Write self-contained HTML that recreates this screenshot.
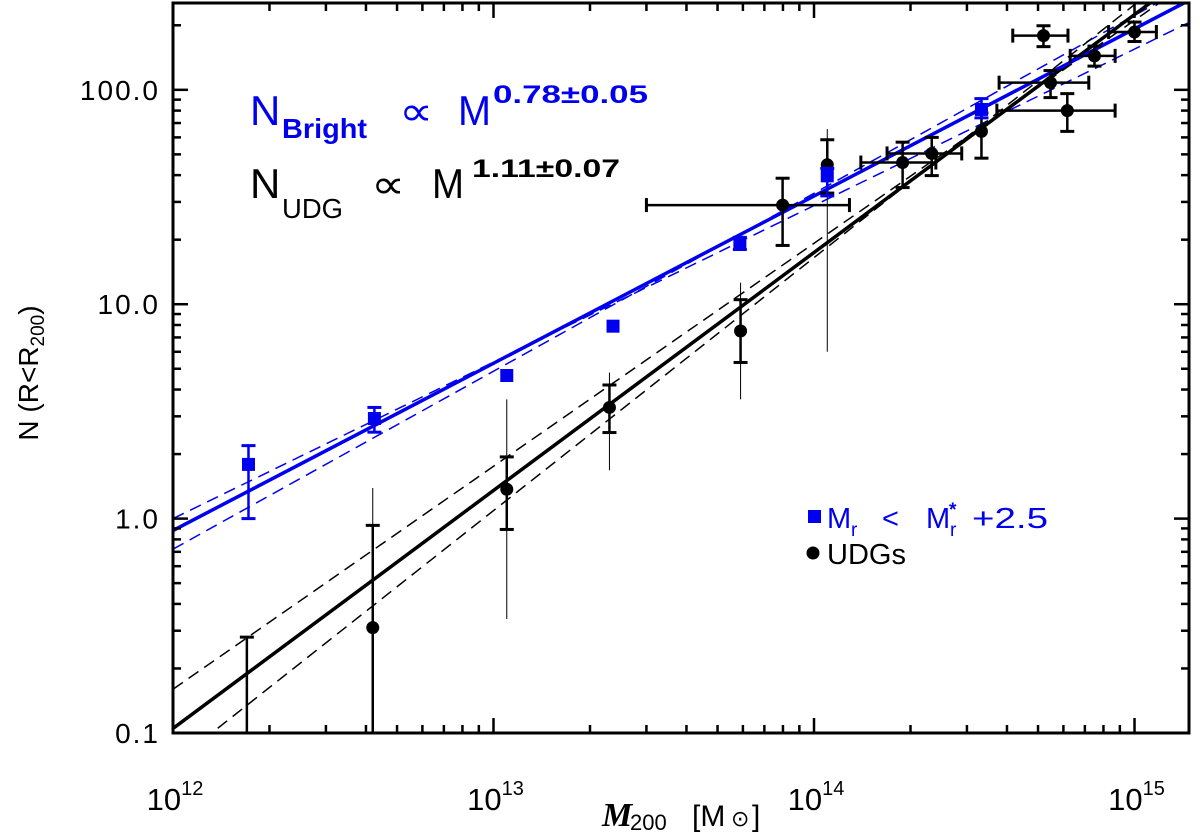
<!DOCTYPE html>
<html><head><meta charset="utf-8"><style>
html,body{margin:0;padding:0;background:#fff;overflow:hidden;width:1200px;height:840px;}
svg{display:block;font-family:"Liberation Sans","DejaVu Sans",sans-serif;}
</style></head><body>
<svg id="chart" width="1200" height="840" viewBox="0 0 1200 840" xmlns="http://www.w3.org/2000/svg">
<defs><clipPath id="plotclip"><rect x="174" y="3" width="1014" height="730"/></clipPath></defs>
<g id="fits" clip-path="url(#plotclip)"></g>
<g id="marks" clip-path="url(#plotclip)"></g>
<g id="axes"></g>
<g fill="#0000ee">
<text x="250" y="125" font-size="42">N</text>
<text x="282" y="138" font-size="28" font-weight="bold" textLength="85" lengthAdjust="spacingAndGlyphs">Bright</text>
<text x="399" y="125" font-size="40" textLength="34" lengthAdjust="spacingAndGlyphs">∝</text>
<text x="458" y="125" font-size="42" textLength="33" lengthAdjust="spacingAndGlyphs">M</text>
<text x="493" y="103" font-size="25" font-weight="bold" textLength="155" lengthAdjust="spacingAndGlyphs">0.78±0.05</text>
</g>
<g fill="#000">
<text x="250" y="198" font-size="42">N</text>
<text x="282" y="218" font-size="28" textLength="61" lengthAdjust="spacingAndGlyphs">UDG</text>
<text x="371" y="198" font-size="40" textLength="34" lengthAdjust="spacingAndGlyphs">∝</text>
<text x="432" y="198" font-size="42" textLength="32" lengthAdjust="spacingAndGlyphs">M</text>
<text x="472" y="177" font-size="25" font-weight="bold" textLength="148" lengthAdjust="spacingAndGlyphs">1.11±0.07</text>
</g>
<g>
<rect x="808" y="510" width="13" height="13" fill="#0000ee"/>
<g fill="#0000ee">
<text x="827" y="528" font-size="29">M</text>
<text x="851" y="536" font-size="19">r</text>
<text x="882" y="528" font-size="29">&lt;</text>
<text x="926" y="528" font-size="29">M</text>
<text x="950" y="536" font-size="19">r</text>
<text x="949" y="516" font-size="19" font-weight="bold">*</text>
<text x="972" y="528" font-size="29" textLength="76" lengthAdjust="spacingAndGlyphs">+2.5</text>
</g>
<circle cx="813" cy="553" r="6.5" fill="#000"/>
<text x="827" y="564" fill="#000" font-size="29">UDGs</text>
</g>
<g>
<text x="602" y="826" font-size="34" font-family="Liberation Serif" font-style="italic" font-weight="bold">M</text>
<text x="630" y="830" font-size="22">200</text>
<text x="692" y="826" font-size="30">[M</text>
<text x="731" y="826" font-size="22">⊙</text>
<text x="752" y="826" font-size="30">]</text>
</g>
<text transform="translate(38,373) rotate(-90)" text-anchor="middle" font-size="28">N  (R&lt;R<tspan font-size="19" dy="6">200</tspan><tspan dy="-6">)</tspan></text>
</svg>
<script>
// axis
const xLogMin = 12, xLogMax = 15.17;
const yLogMin = -1, yLogMax = 2.405;
const xTickExps = [12, 13, 14, 15];
const yTickVals = [0.1, 1, 10, 100];
const yTickLabels = ["0.1", "1.0", "10.0", "100.0"];
// fits: [norm at 1e12, slope]
const fitBright = [0.88, 0.78];
const fitBrightHiDash = [1.0, 0.73];
const fitBrightLoDash = [0.72, 0.83];
const fitUdg = [0.105, 1.11];
const fitUdgHiDash = [0.16, 1.04];
const fitUdgLoDash = [0.072, 1.18];
// UDG data
const udgMass = [1.7e12, 4.2e12, 1.1e13, 2.3e13, 5.9e13, 7.98e13, 1.1e14, 1.89e14, 2.33e14, 3.33e14, 5.2e14, 5.47e14, 6.17e14, 7.5e14, 1e15];
const udgN =    [0.05, 0.31, 1.37, 3.3, 7.5, 29, 44.7, 45.8, 50.5, 64, 179, 108, 80, 144, 186];
const udgNlo =  [0.01, 0.01, 0.89, 2.52, 5.35, 18.8, 33, 35, 39.8, 48, 159, 92, 64, 129, 168];
const udgNhi =  [0.28, 0.93, 1.94, 4.2, 10.5, 38.7, 58.5, 57, 60, 78, 199, 123, 96, 160, 207];
const udgThinLo = [null, 0.01, 0.34, 1.68, 3.6, null, 6.0, null, null, null, null, null, null, null, null];
const udgThinHi = [null, 1.39, 3.6, 4.8, 12.6, null, 65.6, null, null, null, null, null, null, null, null];
const udgMlo = [null, null, null, null, null, 3.0e13, null, 1.4e14, 1.69e14, null, 4.17e14, 3.78e14, 3.72e14, 6.3e14, 8.3e14];
const udgMhi = [null, null, null, null, null, 1.29e14, null, 2.4e14, 2.89e14, null, 6.2e14, 7.2e14, 8.7e14, 8.7e14, 1.17e15];
// Bright data
const brMass = [1.72e12, 4.25e12, 1.1e13, 2.36e13, 5.87e13, 1.1e14, 3.33e14];
const brN =    [1.79, 2.93, 4.65, 7.9, 19, 39.7, 81];
const brNlo =  [1.0, 2.53, null, null, 18, 32, 74];
const brNhi =  [2.19, 3.3, null, null, 20.5, 43, 91];

const X0 = 173, X1 = 1189, Y0 = 733, Y1 = 3;
function xs(m){ return X0 + (Math.log10(m) - xLogMin) / (xLogMax - xLogMin) * (X1 - X0); }
function ys(n){ return Y0 - (Math.log10(n) - yLogMin) / (yLogMax - yLogMin) * (Y0 - Y1); }
const NS = "http://www.w3.org/2000/svg";
function mk(tag, attrs, parent){ const e = document.createElementNS(NS, tag); for (const k in attrs) e.setAttribute(k, attrs[k]); parent.appendChild(e); return e; }
const fits = document.getElementById('fits'), marks = document.getElementById('marks'), axes = document.getElementById('axes');

function fitLine(f, color, w, dash, name){
  const m0 = Math.pow(10, xLogMin), m1 = Math.pow(10, xLogMax);
  const n0 = f[0] * Math.pow(m0/1e12, f[1]), n1 = f[0] * Math.pow(m1/1e12, f[1]);
  const l = mk('line', {x1: xs(m0), y1: ys(n0), x2: xs(m1), y2: ys(n1), stroke: color, 'stroke-width': w}, fits);
  if (dash) l.setAttribute('stroke-dasharray', dash);
  
  
}
fitLine(fitBrightHiDash, '#0000ee', 1.5, '12,7', 'bright-fit-upper-bound');
fitLine(fitBrightLoDash, '#0000ee', 1.5, '12,7', 'bright-fit-lower-bound');
fitLine(fitUdgHiDash, '#000', 1.5, '12,7', 'udg-fit-upper-bound');
fitLine(fitUdgLoDash, '#000', 1.5, '12,7', 'udg-fit-lower-bound');
fitLine(fitUdg, '#000', 3.5, null, 'udg-fit-line');
fitLine(fitBright, '#0000ee', 3.5, null, 'bright-fit-line');

function vbar(x, lo, hi, color, w, cap){
  mk('line', {x1: x, x2: x, y1: ys(lo), y2: ys(hi), stroke: color, 'stroke-width': w}, marks);
  if (cap) {
    mk('line', {x1: x-7, x2: x+7, y1: ys(lo), y2: ys(lo), stroke: color, 'stroke-width': 3}, marks);
    mk('line', {x1: x-7, x2: x+7, y1: ys(hi), y2: ys(hi), stroke: color, 'stroke-width': 3}, marks);
  }
}
for (let i = 0; i < udgMass.length; i++) {
  const x = xs(udgMass[i]), y = ys(udgN[i]);
  if (udgThinLo[i] !== null) mk('line', {x1: x, x2: x, y1: ys(udgThinLo[i]), y2: ys(udgThinHi[i]), stroke: '#000', 'stroke-width': 1}, marks);
  vbar(x, udgNlo[i], udgNhi[i], '#000', 2.5, true);
  if (udgMlo[i] !== null) {
    const x0 = xs(udgMlo[i]), x1 = xs(udgMhi[i]);
    mk('line', {x1: x0, x2: x1, y1: y, y2: y, stroke: '#000', 'stroke-width': 2.5}, marks);
    mk('line', {x1: x0, x2: x0, y1: y-7, y2: y+7, stroke: '#000', 'stroke-width': 3}, marks);
    mk('line', {x1: x1, x2: x1, y1: y-7, y2: y+7, stroke: '#000', 'stroke-width': 3}, marks);
  }
  const c = mk('circle', {cx: x, cy: y, r: 6.5, fill: '#000'}, marks);
  
  
}
for (let i = 0; i < brMass.length; i++) {
  const x = xs(brMass[i]), y = ys(brN[i]);
  if (brNlo[i] !== null) vbar(x, brNlo[i], brNhi[i], '#0000ee', 2.5, true);
  const r = mk('rect', {x: x-6.5, y: y-6.5, width: 13, height: 13, fill: '#0000ee'}, marks);
  
  
}

// frame
const fr = mk('rect', {x: X0, y: Y1, width: X1-X0, height: Y0-Y1, fill: 'none', stroke: '#000', 'stroke-width': 3}, axes);


// x ticks
for (let e = 12; e <= 15; e++) {
  for (let k = 1; k <= 9; k++) {
    const m = k * Math.pow(10, e);
    if (Math.log10(m) > xLogMax) continue;
    const x = xs(m), L = (k === 1) ? 15 : 8;
    mk('line', {x1: x, x2: x, y1: Y0, y2: Y0-L, stroke: '#000', 'stroke-width': 2.5}, axes);
    mk('line', {x1: x, x2: x, y1: Y1, y2: Y1+L, stroke: '#000', 'stroke-width': 2.5}, axes);
  }
}
xTickExps.forEach(function(e){
  const t = mk('text', {x: xs(Math.pow(10, e)) + 2, y: 810, 'font-size': 31, 'text-anchor': 'middle'}, axes);
  t.innerHTML = '10<tspan font-size="20" dy="-15">' + e + '</tspan>';
  
  
});
// y ticks
for (let e = -1; e <= 2; e++) {
  for (let k = 1; k <= 9; k++) {
    const n = k * Math.pow(10, e);
    if (Math.log10(n) > yLogMax) continue;
    const y = ys(n), L = (k === 1) ? 15 : 8;
    mk('line', {x1: X0, x2: X0+L, y1: y, y2: y, stroke: '#000', 'stroke-width': 2.5}, axes);
    mk('line', {x1: X1, x2: X1-L, y1: y, y2: y, stroke: '#000', 'stroke-width': 2.5}, axes);
  }
}
yTickVals.forEach(function(v, i){
  const t = mk('text', {x: 160, y: ys(v) + 10, 'font-size': 28, 'text-anchor': 'end', 'letter-spacing': 2}, axes);
  t.textContent = yTickLabels[i];
  
  
});
</script>
</body></html>
